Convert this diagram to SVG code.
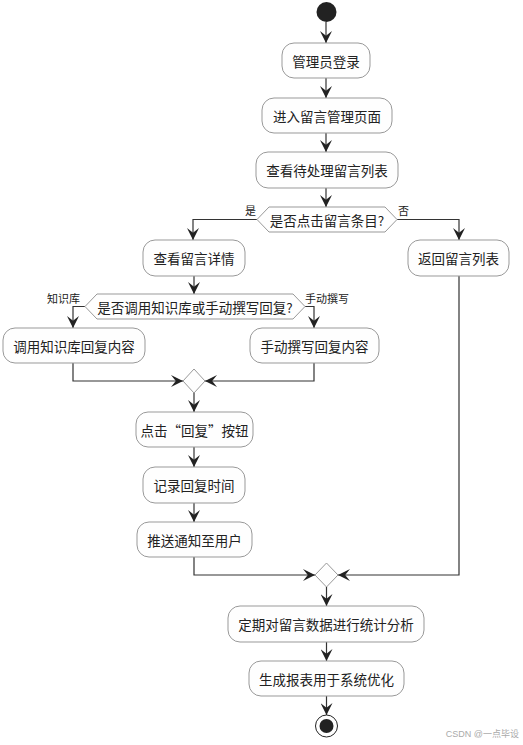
<svg xmlns="http://www.w3.org/2000/svg" width="523" height="745" viewBox="0 0 523 745">
<defs>
<marker id="arr" markerUnits="userSpaceOnUse" markerWidth="12" markerHeight="12" viewBox="0 0 10 10" refX="10" refY="5" orient="auto">
<path d="M0,0 L10,5 L0,10 L4,5 z" fill="#222"/>
</marker>
<style>
.box{fill:#fefefe;stroke:#999;stroke-width:1}
.dia{fill:#fefefe;stroke:#999;stroke-width:1}
.t{font-family:"Noto Sans CJK SC","Noto Sans",sans-serif;font-size:13.5px;fill:#222;text-anchor:middle;dominant-baseline:central}
.l{font-family:"Noto Sans CJK SC","Noto Sans",sans-serif;font-size:11px;fill:#222}
.c{fill:none;stroke:#333;stroke-width:1.2;marker-end:url(#arr)}
</style>
</defs>
<rect width="523" height="745" fill="#fff"/>
<g id="connectors">
<path class="c" d="M326,22 V43"/>
<path class="c" d="M326,78 V98"/>
<path class="c" d="M326,133 V152"/>
<path class="c" d="M326,188 V207"/>
<path class="c" d="M257,219.5 H193 V240"/>
<path class="c" d="M397,219.5 H459 V240"/>
<path class="c" d="M194,276 V294"/>
<path class="c" d="M85,306.5 H73 V328"/>
<path class="c" d="M305,306.5 H314 V328"/>
<path class="c" d="M73,363 V381 H183"/>
<path class="c" d="M314,363 V381 H205"/>
<path class="c" d="M194,393 V412"/>
<path class="c" d="M194,447 V467"/>
<path class="c" d="M194,503 V522"/>
<path class="c" d="M194,557 V575 H315"/>
<path class="c" d="M459,276 V575 H338"/>
<path class="c" d="M326.5,587 V606"/>
<path class="c" d="M326.5,642 V661"/>
<path class="c" d="M326.5,696 V715"/>
</g>
<g id="start"><circle cx="326.5" cy="12" r="10" fill="#222"/></g>
<g id="n1"><rect class="box" x="282" y="43" width="88" height="35" rx="12"/><text class="t" x="326" y="60.5">管理员登录</text></g>
<g id="n2"><rect class="box" x="262" y="98" width="130" height="35" rx="12"/><text class="t" x="327" y="115.5">进入留言管理页面</text></g>
<g id="n3"><rect class="box" x="256" y="152" width="142" height="36" rx="12"/><text class="t" x="327" y="170">查看待处理留言列表</text></g>
<g id="d1"><polygon class="dia" points="257,219.5 269,207 385,207 397,219.5 385,232 269,232"/><text class="t" x="327" y="219.5">是否点击留言条目?</text>
<text class="l" x="245" y="215">是</text><text class="l" x="398" y="215">否</text></g>
<g id="n4"><rect class="box" x="143" y="240" width="102" height="36" rx="12"/><text class="t" x="194" y="258">查看留言详情</text></g>
<g id="n5"><rect class="box" x="408" y="240" width="101" height="36" rx="12"/><text class="t" x="458.5" y="258">返回留言列表</text></g>
<g id="d2"><polygon class="dia" points="85,306.5 97,294 293,294 305,306.5 293,319 97,319"/><text class="t" x="195" y="306.5">是否调用知识库或手动撰写回复?</text>
<text class="l" x="47" y="303">知识库</text><text class="l" x="305" y="303">手动撰写</text></g>
<g id="n6"><rect class="box" x="3" y="328" width="142" height="35" rx="12"/><text class="t" x="74" y="345.5">调用知识库回复内容</text></g>
<g id="n7"><rect class="box" x="250" y="328" width="129" height="35" rx="12"/><text class="t" x="314.5" y="345.5">手动撰写回复内容</text></g>
<g id="m1"><polygon class="dia" points="194,369 205,381 194,393 183,381"/></g>
<g id="n8"><rect class="box" x="136" y="412" width="117" height="35" rx="12"/><text class="t" x="194.5" y="429.5">点击“回复”按钮</text></g>
<g id="n9"><rect class="box" x="143" y="467" width="102" height="36" rx="12"/><text class="t" x="194" y="485">记录回复时间</text></g>
<g id="n10"><rect class="box" x="137" y="522" width="115" height="35" rx="12"/><text class="t" x="194.5" y="539.5">推送通知至用户</text></g>
<g id="m2"><polygon class="dia" points="326.5,563 338,575 326.5,587 315,575"/></g>
<g id="n11"><rect class="box" x="228" y="606" width="196" height="36" rx="12"/><text class="t" x="326" y="624">定期对留言数据进行统计分析</text></g>
<g id="n12"><rect class="box" x="249" y="661" width="155" height="35" rx="12"/><text class="t" x="326.5" y="678.5">生成报表用于系统优化</text></g>
<g id="end"><circle cx="326.5" cy="726" r="11" fill="#fefefe" stroke="#222" stroke-width="1"/><circle cx="326.5" cy="726" r="7" fill="#222"/></g>
<text x="519" y="737" font-family="'Liberation Sans','Noto Sans CJK SC',sans-serif" font-size="9" fill="#aaa" text-anchor="end">CSDN @一点毕设</text>
</svg>
